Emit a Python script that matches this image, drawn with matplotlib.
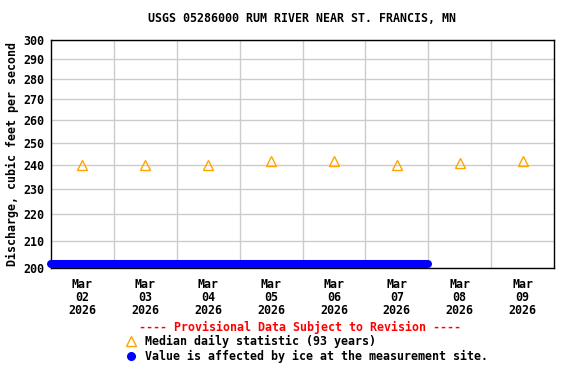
import numpy as np
import matplotlib
matplotlib.use("Agg")
import matplotlib.pyplot as plt
import matplotlib.dates as mdates
import matplotlib.transforms as mtransforms
from matplotlib.ticker import FixedLocator, FixedFormatter, NullLocator
import datetime as dt

# Datos
dias = [dt.datetime(2026, 3, d, 12) for d in range(2, 10)]
mediana = [240, 240, 240, 242, 242, 240, 241, 242]
etiquetas_x = ["Mar\n%02d\n2026" % d for d in range(2, 10)]
hielo_inicio_fin = [dt.datetime(2026, 3, 2, 0), dt.datetime(2026, 3, 8, 0)]
hielo_valor = [200, 200]
y_ticks = [200, 210, 220, 230, 240, 250, 260, 270, 280, 290, 300]

plt.rcParams['font.family'] = ['DejaVu Sans Mono']
plt.rcParams['font.weight'] = 'bold'
fs = 8.4

fig = plt.figure(figsize=(5.76, 3.84), dpi=100)
ax = fig.add_axes([51/576, 1 - 268/384, 503/576, 228/384])

ax.set_yscale('log')
ax.set_ylim(200, 300)
ax.set_xlim(dt.datetime(2026, 3, 2), dt.datetime(2026, 3, 10))

# Rejilla
ax.yaxis.set_major_locator(FixedLocator(y_ticks))
ax.yaxis.set_major_formatter(FixedFormatter([str(v) for v in y_ticks]))
ax.yaxis.set_minor_locator(NullLocator())
ax.set_xticks(mdates.date2num(dias))
ax.set_xticklabels(etiquetas_x, fontsize=fs, fontweight='bold', linespacing=1.0)
for d in range(3, 10):
    ax.axvline(dt.datetime(2026, 3, d), color='#cccccc', lw=1, zorder=0)
ax.grid(axis='y', color='#cccccc', lw=1, zorder=0)
ax.tick_params(length=0, labelsize=fs, pad=5)
ax.tick_params(axis='x', pad=7)
for lbl in ax.get_yticklabels():
    lbl.set_fontweight('bold')
for s in ax.spines.values():
    s.set_linewidth(1)

# Valores afectados por hielo
off = mtransforms.offset_copy(ax.transData, fig=fig, x=0, y=4, units='dots')
ax.plot(hielo_inicio_fin, hielo_valor, color='#0000ff', lw=5.8,
        solid_capstyle='round', clip_on=False, transform=off, zorder=3)

# Mediana diaria
ax.plot(dias, mediana, linestyle='none', marker='^', markersize=6.5,
        markerfacecolor='none', markeredgecolor='#ffa500', markeredgewidth=1, zorder=4)

ax.set_ylabel('Discharge, cubic feet per second', fontsize=fs, fontweight='bold', labelpad=3)
fig.text(302/576, 1 - 19/384, 'USGS 05286000 RUM RIVER NEAR ST. FRANCIS, MN',
         ha='center', va='center', fontsize=fs, fontweight='bold')

# Leyenda
fig.text(300/576, 1 - 327/384, '---- Provisional Data Subject to Revision ----',
         ha='center', va='center', fontsize=fs, fontweight='bold', color='#ff0000')
fig.lines.append(plt.Line2D([131/576], [1 - 341/384], transform=fig.transFigure,
                            marker='^', markersize=6.5, markerfacecolor='none',
                            markeredgecolor='#ffa500', markeredgewidth=1, linestyle='none'))
fig.text(145/576, 1 - 341/384, 'Median daily statistic (93 years)',
         ha='left', va='center', fontsize=fs, fontweight='bold')
fig.lines.append(plt.Line2D([131/576], [1 - 356/384], transform=fig.transFigure,
                            marker='o', markersize=5.5, color='#0000ff', linestyle='none'))
fig.text(145/576, 1 - 356/384, 'Value is affected by ice at the measurement site.',
         ha='left', va='center', fontsize=fs, fontweight='bold')

fig.savefig('out.png', dpi=100)
